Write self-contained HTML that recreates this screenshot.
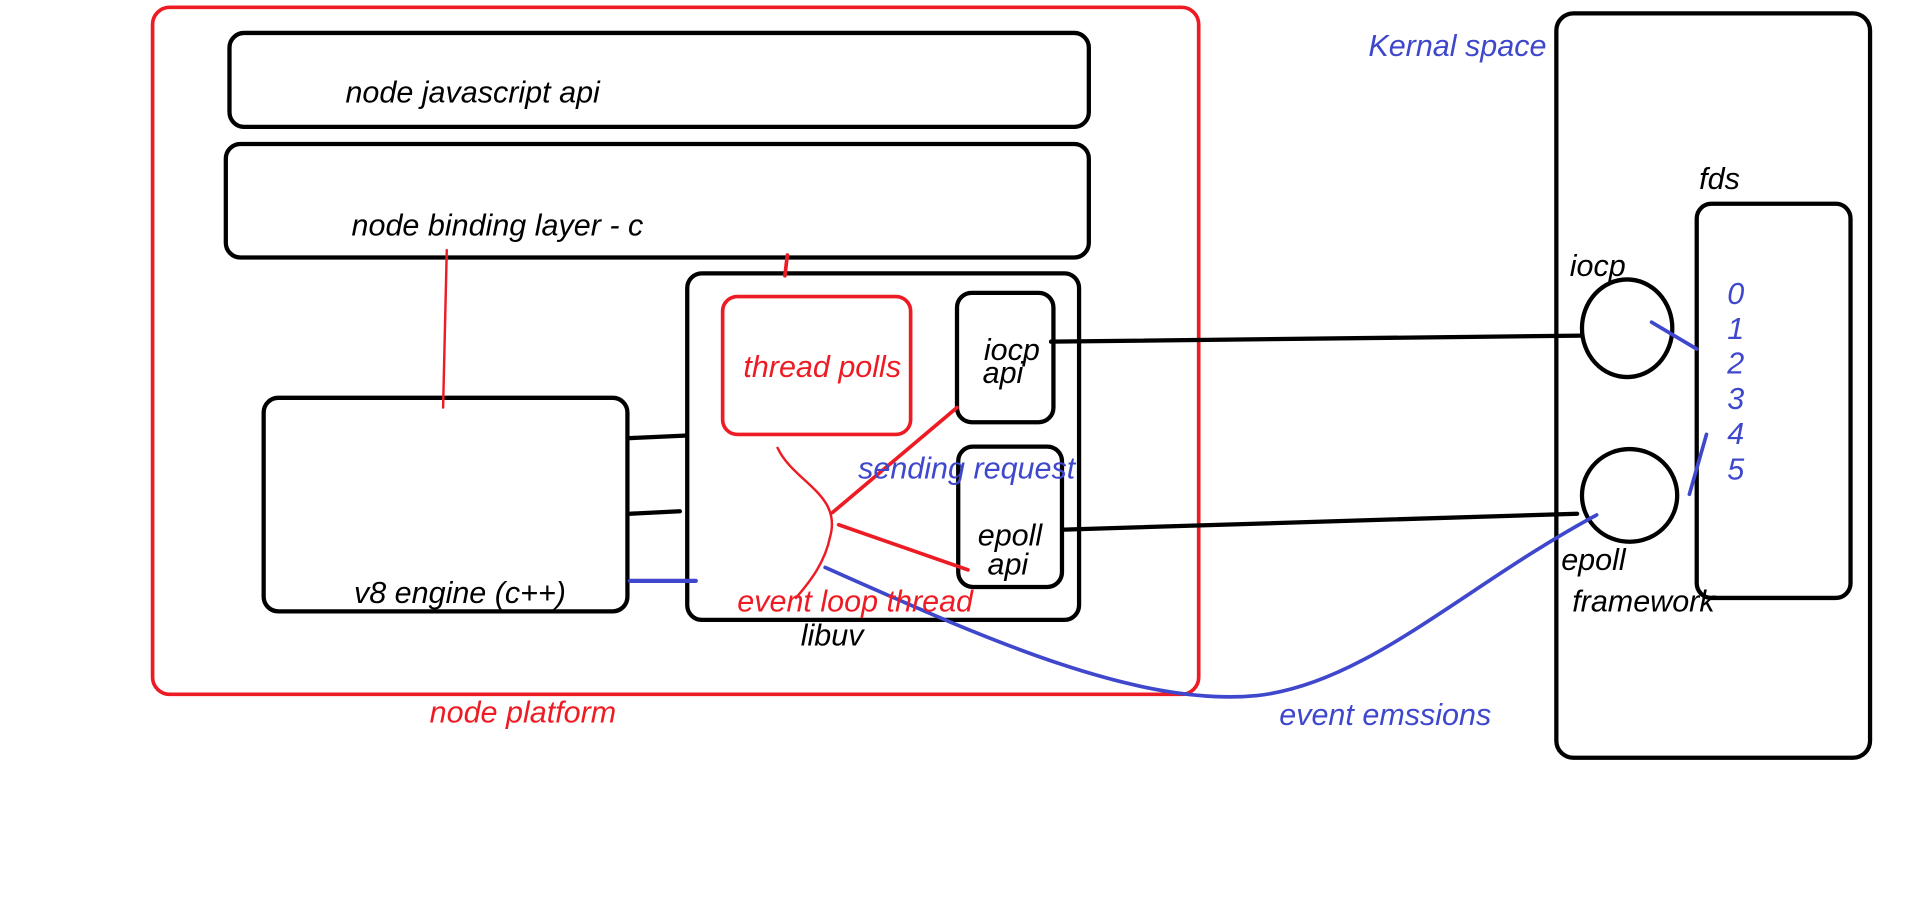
<!DOCTYPE html>
<html><head><meta charset="utf-8"><style>
html,body{margin:0;padding:0;background:#fff;width:1914px;height:903px;overflow:hidden}
svg{display:block}
text{font-family:"Liberation Sans",sans-serif;font-style:italic;font-size:25px}
</style></head><body>
<svg width="1914" height="903" viewBox="0 0 1568 740" preserveAspectRatio="none">
<g fill="none" stroke-linecap="round">
<rect x="125" y="6" width="857" height="563" rx="14" stroke="#ed1c24" stroke-width="3"/>
<rect x="188" y="27" width="704" height="77" rx="12" stroke="#000" stroke-width="3.5"/>
<rect x="185" y="118" width="707" height="93" rx="12" stroke="#000" stroke-width="3.5"/>
<rect x="216" y="326" width="298" height="175" rx="12" stroke="#000" stroke-width="3.5"/>
<rect x="563" y="224" width="321" height="284" rx="12" stroke="#000" stroke-width="3.5"/>
<rect x="592" y="243" width="154" height="113" rx="12" stroke="#ed1c24" stroke-width="3"/>
<rect x="784" y="240" width="79" height="106" rx="12" stroke="#000" stroke-width="3.5"/>
<rect x="785" y="366" width="85" height="115" rx="12" stroke="#000" stroke-width="3.5"/>
<rect x="1275" y="11" width="257" height="610" rx="14" stroke="#000" stroke-width="3.5"/>
<rect x="1390" y="167" width="126" height="323" rx="12" stroke="#000" stroke-width="3.5"/>
<ellipse cx="1333" cy="269" rx="37" ry="40" stroke="#000" stroke-width="3.5"/>
<ellipse cx="1335" cy="406" rx="39" ry="38" stroke="#000" stroke-width="3.5"/>
<line x1="366" y1="205" x2="363" y2="334" stroke="#ed1c24" stroke-width="2"/>
<line x1="645" y1="209" x2="643" y2="226" stroke="#ed1c24" stroke-width="3"/>
<line x1="516" y1="359" x2="561" y2="357" stroke="#000" stroke-width="3.5"/>
<line x1="516" y1="421" x2="557" y2="419" stroke="#000" stroke-width="3.5"/>
<line x1="516" y1="476" x2="570" y2="476" stroke="#3f48cc" stroke-width="3.5"/>
<line x1="861" y1="280" x2="1296" y2="275" stroke="#000" stroke-width="3.5"/>
<line x1="872" y1="434" x2="1292" y2="421" stroke="#000" stroke-width="3.5"/>
<path d="M637 367 C650 395 690 405 680 440 C676 460 665 475 652 490" stroke="#ed1c24" stroke-width="2"/>
<line x1="682" y1="420" x2="784" y2="334" stroke="#ed1c24" stroke-width="3"/>
<line x1="687" y1="430" x2="793" y2="467" stroke="#ed1c24" stroke-width="3"/>
<path d="M676 465 C800 520 930 580 1030 570 C1120 560 1200 480 1308 422" stroke="#3f48cc" stroke-width="3"/>
<line x1="1353" y1="264" x2="1390" y2="286" stroke="#3f48cc" stroke-width="3"/>
<line x1="1384" y1="405" x2="1398" y2="356" stroke="#3f48cc" stroke-width="3"/>
</g>
<text x="283" y="84">node javascript api</text>
<text x="288" y="193">node binding layer - c</text>
<text x="290" y="494">v8 engine  (c++)</text>
<text x="609" y="309" fill="#ed1c24">thread polls</text>
<text x="806" y="295">iocp</text>
<text x="805" y="314">api</text>
<text x="801" y="447">epoll</text>
<text x="809" y="471">api</text>
<text x="703" y="392" fill="#3f48cc">sending request</text>
<text x="604" y="501" fill="#ed1c24">event loop thread</text>
<text x="656" y="529">libuv</text>
<text x="352" y="592" fill="#ed1c24">node platform</text>
<text x="1121" y="46" fill="#3f48cc">Kernal space</text>
<text x="1048" y="594" fill="#3f48cc">event emssions</text>
<text x="1392" y="155">fds</text>
<text x="1286" y="226">iocp</text>
<text x="1279" y="467">epoll</text>
<text x="1288" y="501">framework</text>
<g fill="#3f48cc"><text x="1415" y="249">0</text><text x="1415" y="278">1</text><text x="1415" y="306">2</text><text x="1415" y="335">3</text><text x="1415" y="364">4</text><text x="1415" y="393">5</text></g>
</svg>
</body></html>
